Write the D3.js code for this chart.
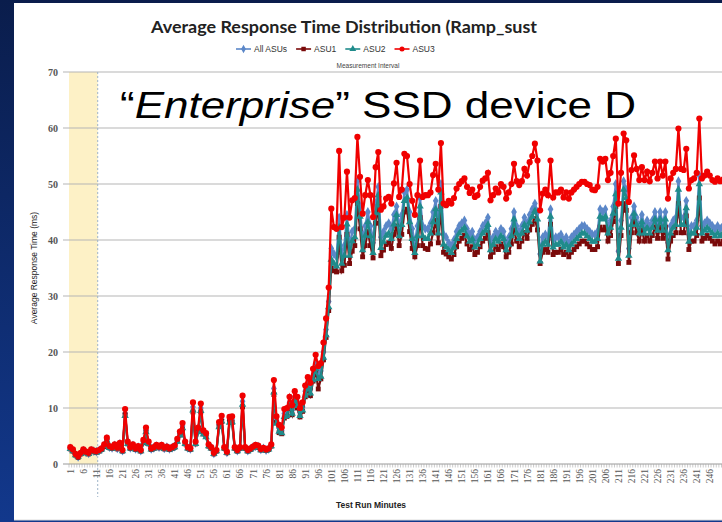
<!doctype html>
<html>
<head>
<style type="text/css">
body { margin: 0; background: #0b1f50; }
svg { display: block; }
.title { font: bold 17px Lato, "Open Sans", sans-serif; fill: #222; text-anchor: middle; }
.legend text { font: 8.5px "Liberation Sans", sans-serif; fill: #333; }
.ylab text { font: bold 10px "Liberation Serif", serif; fill: #555; }
.xlab text { font: 9.5px "Liberation Serif", serif; fill: #555; }
.axtitle { font: bold 8.5px "Liberation Sans", sans-serif; fill: #222; }
.big { font: 36px "Liberation Sans", Arial, sans-serif; fill: #000; }
</style>
</head>
<body>
<svg width="722" height="522"></svg>
<script src="https://cdn.jsdelivr.net/npm/d3@7"></script>
<script>
// minutes 1..251 (chart is cropped on the right)
var minutes = d3.range(1, 252);
var yTicks = [0, 10, 20, 30, 40, 50, 60, 70];
var seriesNames = ["All ASUs", "ASU1", "ASU2", "ASU3"];

var allAsus = [
 2.8,2.4,1.7,1.3,1.9,2.4,2.1,1.9,2.4,2.3, 2.2,2.4,2.7,3.3,4.4,3.0,2.9,3.3,2.8,3.6,
 2.4,9.0,3.8,2.9,3.3,2.7,3.0,2.4,4.0,6.0, 3.8,2.7,2.9,3.2,3.0,3.2,2.8,3.0,2.7,2.9,
 3.1,4.2,5.4,6.8,3.8,2.9,2.7,10.2,3.8,6.0, 10.0,5.6,5.1,3.3,2.9,1.9,2.4,7.0,8.0,2.9,
 2.1,7.8,7.9,2.9,2.4,2.9,11.2,2.9,2.4,2.7, 3.0,3.2,3.1,2.6,2.8,2.5,2.7,3.3,13.5,7.8,
 6.4,6.0,9.0,9.2,11.0,9.6,12.0,11.0,9.2,10.2, 13.0,14.3,13.4,15.7,18.0,16.2,16.6,20.0,24.0,29.0,
 38.5,37.5,37.0,44.0,37.5,39.0,44.5,39.0,41.5,42.0, 50.5,46.0,40.0,42.5,45.0,42.5,39.5,46.5,49.5,40.5,
 41.5,42.5,43.0,42.0,44.5,46.0,42.5,44.5,48.5,49.0, 45.0,42.0,39.5,42.5,47.5,42.5,42.0,42.0,43.0,45.0,
 47.0,43.0,50.0,41.0,40.5,39.5,39.0,40.0,41.5,42.5, 43.0,43.5,42.0,41.0,41.5,40.0,40.5,41.5,42.5,43.0,
 44.0,39.5,40.5,41.5,41.0,42.0,41.5,39.5,40.5,42.0, 45.0,42.5,41.5,42.5,44.0,43.0,44.5,45.5,46.5,45.0,
 37.5,40.5,41.0,40.5,45.5,40.0,40.5,40.5,41.0,40.0, 40.5,39.5,40.5,41.0,41.5,42.0,42.5,42.5,42.0,41.5,
 41.0,41.0,41.5,45.5,45.0,45.5,42.5,43.5,46.0,50.0, 38.0,43.5,50.5,49.0,38.5,44.0,46.0,44.0,42.5,44.5,
 42.5,43.5,42.5,43.5,45.0,43.0,45.0,43.0,45.0,39.5, 42.5,43.5,44.0,50.5,44.0,44.0,47.0,41.0,42.5,42.5,
 43.5,51.5,42.5,43.0,43.5,43.0,42.5,42.0,42.5,42.0,42.5
];
var asu1 = [
 2.7,2.3,1.6,1.2,1.8,2.3,2.0,1.8,2.3,2.2, 2.1,2.3,2.6,3.1,4.1,2.9,2.8,3.1,2.7,3.4,
 2.3,8.8,3.6,2.8,3.1,2.6,2.9,2.3,3.8,5.8, 3.6,2.6,2.8,3.1,2.9,3.1,2.7,2.9,2.6,2.8,
 3.0,4.1,5.2,6.2,3.6,2.8,2.6,9.3,3.6,5.9, 9.3,5.4,4.9,3.2,2.8,1.8,2.3,6.8,7.6,2.8,
 2.0,7.6,7.4,2.8,2.3,2.8,10.2,2.8,2.3,2.6, 2.9,3.1,3.0,2.5,2.7,2.4,2.6,3.2,12.4,7.4,
 5.6,5.4,8.2,8.5,10.2,8.8,11.2,10.0,8.4,9.4, 12.0,13.2,12.2,14.8,16.6,13.4,15.2,18.6,22.6,27.4,
 35.0,34.5,34.3,40.5,34.5,35.5,41.0,35.8,38.0,39.0, 46.5,42.0,37.0,39.0,41.5,39.0,36.8,43.0,46.0,37.2,
 38.2,39.2,39.5,38.5,41.0,42.5,39.0,41.0,45.0,45.5, 41.5,38.5,37.0,39.0,44.0,39.0,38.5,38.3,39.3,41.3,
 43.5,39.5,46.0,37.8,37.5,37.0,36.6,37.4,38.8,39.8, 40.3,40.8,39.3,38.3,38.8,37.4,37.8,38.8,39.8,40.3,
 41.3,37.0,37.8,38.8,38.3,39.3,38.8,37.0,37.8,39.3, 41.8,39.8,38.8,39.8,41.3,40.3,41.8,42.8,43.8,41.8,
 35.8,37.8,38.3,37.8,42.8,37.4,37.8,37.8,38.3,37.4, 37.8,37.0,37.8,38.3,38.8,39.3,39.8,39.8,39.3,38.8,
 38.3,38.3,38.8,42.3,41.8,42.3,39.8,40.8,43.3,46.0, 35.8,40.8,46.5,45.3,36.0,41.3,43.3,41.3,39.8,41.8,
 39.8,40.8,39.8,40.8,42.3,40.3,42.3,40.3,42.3,36.6, 39.8,40.8,41.3,46.5,41.3,41.3,44.3,38.3,39.8,39.8,
 40.8,47.5,39.8,40.3,40.8,40.3,39.8,39.3,39.8,39.3,39.8
];
var asu2 = [
 2.7,2.3,1.6,1.3,1.8,2.3,2.0,1.8,2.3,2.2, 2.1,2.3,2.6,3.2,4.2,2.9,2.8,3.2,2.7,3.5,
 2.3,8.6,3.6,2.8,3.2,2.6,2.9,2.3,3.8,5.7, 3.6,2.6,2.8,3.1,2.9,3.1,2.7,2.9,2.6,2.8,
 3.0,4.0,5.1,6.4,3.6,2.8,2.6,9.6,3.6,5.7, 9.5,5.3,4.8,3.2,2.8,1.8,2.3,6.6,7.6,2.8,
 2.0,7.4,7.5,2.8,2.3,2.8,10.6,2.8,2.3,2.6, 2.9,3.1,3.0,2.5,2.7,2.4,2.6,3.2,12.8,7.2,
 5.8,5.5,8.4,8.6,10.4,9.0,11.4,10.4,8.6,9.6, 12.2,13.6,12.6,15.0,17.0,15.2,15.6,19.0,23.0,28.0,
 36.5,35.8,35.3,42.3,35.8,37.2,42.8,37.2,39.8,40.5, 49.0,44.2,38.2,40.8,43.2,40.7,37.7,44.8,48.0,38.6,
 39.7,40.8,41.2,40.2,42.8,44.5,40.7,42.7,47.0,47.6, 43.2,40.2,37.7,40.7,46.0,40.7,40.2,40.2,41.2,43.2,
 45.5,41.2,48.5,39.2,38.7,38.2,37.7,38.7,40.2,41.2, 41.7,42.2,40.7,39.7,40.2,38.7,39.2,40.2,41.2,41.7,
 42.7,38.2,39.2,40.2,39.7,40.7,40.2,38.2,39.2,40.7, 43.7,41.2,40.2,41.2,42.7,41.7,43.2,44.2,45.2,43.7,
 36.2,39.2,39.7,39.2,44.2,38.7,39.2,39.2,39.7,38.7, 39.2,38.2,39.2,39.7,40.2,40.7,41.2,41.2,40.7,40.2,
 39.7,39.7,40.2,44.2,43.7,44.2,41.2,42.2,44.7,48.2, 36.7,42.2,49.0,47.5,37.2,42.7,44.7,42.7,41.2,43.2,
 41.2,42.2,41.2,42.2,43.7,41.7,43.7,41.7,43.7,38.2, 41.2,42.2,42.7,49.0,42.7,42.7,45.7,39.7,41.2,41.2,
 42.2,50.0,41.2,41.7,42.2,41.7,41.2,40.7,41.2,40.7,41.2
];
var asu3 = [
 3.0,2.6,1.8,1.4,2.0,2.6,2.2,2.0,2.6,2.4, 2.3,2.5,2.8,3.5,4.7,3.2,3.0,3.5,2.9,3.8,
 2.5,9.8,4.0,3.0,3.5,2.8,3.2,2.5,4.3,6.5, 4.0,2.8,3.0,3.4,3.1,3.4,2.9,3.1,2.8,3.0,
 3.3,4.5,5.8,7.3,4.0,3.0,2.8,11.0,4.0,6.5, 10.8,6.0,5.5,3.5,3.0,2.0,2.5,7.5,8.6,3.0,
 2.2,8.4,8.5,3.0,2.5,3.0,12.2,3.0,2.5,2.8, 3.1,3.4,3.3,2.7,2.9,2.6,2.8,3.5,15.0,8.5,
 7.0,6.5,9.8,10.0,12.0,10.5,13.0,12.0,10.0,11.0, 14.0,15.5,14.5,17.0,19.5,17.5,18.0,21.7,26.0,31.5,
 45.6,42.3,42.0,55.9,42.3,44.0,52.2,44.0,47.1,47.5, 58.4,51.3,44.7,48.0,50.7,48.0,44.1,53.0,55.7,45.4,
 46.0,47.4,47.7,46.5,50.1,53.8,47.7,49.0,55.4,55.0, 50.0,47.0,44.5,48.0,54.2,47.7,48.0,48.0,48.5,51.6,
 53.6,49.0,57.3,46.5,46.2,47.0,46.5,47.5,49.2,50.0, 50.5,51.0,49.5,48.4,49.0,47.7,48.0,49.5,50.6,51.0,
 52.0,47.1,48.0,49.2,48.5,50.0,49.5,47.4,48.5,50.0, 53.6,50.5,49.8,50.5,52.7,51.5,53.9,55.0,57.2,54.2,
 45.3,48.3,49.0,48.0,54.2,47.6,48.5,48.5,49.0,47.6, 48.5,47.4,48.5,49.0,49.5,50.0,50.4,50.4,50.0,49.8,
 49.0,48.9,49.5,54.5,54.0,54.5,50.7,52.0,55.0,58.1, 46.5,52.0,59.0,57.8,46.8,52.5,55.1,52.7,50.7,53.0,
 50.7,52.2,50.5,52.0,54.0,51.0,54.0,51.5,54.0,47.4, 51.0,52.0,52.7,59.9,52.7,52.5,56.3,49.2,50.7,51.0,
 52.0,61.7,51.0,51.5,52.2,51.5,50.7,50.4,51.0,50.5,50.8
];
// warm-up period shown shaded
var warmupEnd = 11;

var colors = ["#5b87c8", "#7a0a0a", "#1f8b8b", "#f00000"];
var symbols = [d3.symbolDiamond, d3.symbolSquare, d3.symbolTriangle, d3.symbolCircle];
var symSize = [28, 24, 24, 30];
var allSeries = [allAsus, asu1, asu2, asu3];

var svg = d3.select("svg");

// slide background + chart panel
var defs = svg.append("defs");
var grad = defs.append("linearGradient").attr("id", "bg").attr("x1", 0).attr("y1", 0).attr("x2", 0).attr("y2", 1);
grad.append("stop").attr("offset", 0).attr("stop-color", "#0a1d4c");
grad.append("stop").attr("offset", 1).attr("stop-color", "#12388c");
svg.append("rect").attr("width", 722).attr("height", 522).attr("fill", "url(#bg)");
svg.append("rect").attr("x", 14).attr("y", 3).attr("width", 720).attr("height", 517).attr("fill", "#fff");
svg.append("line").attr("x1", 14).attr("x2", 722).attr("y1", 520).attr("y2", 520).attr("stroke", "#ddd");

var x = d3.scaleBand().domain(minutes).range([69, 69 + minutes.length * 2.61]);
var y = d3.scaleLinear().domain([0, 70]).range([464, 72]);
var cx = function(m) { return x(m) + x.bandwidth() / 2; };

var plot = svg.append("g");

// warm-up band
plot.append("rect")
  .attr("x", x(1)).attr("y", y(70))
  .attr("width", x(warmupEnd) + x.bandwidth() - x(1))
  .attr("height", y(0) - y(70))
  .attr("fill", "#fdf1c6");

// gridlines
plot.selectAll("line.grid").data(yTicks.slice(1)).enter().append("line")
  .attr("class", "grid")
  .attr("x1", 63).attr("x2", 722)
  .attr("y1", function(d) { return y(d); }).attr("y2", function(d) { return y(d); })
  .attr("stroke", "#b5b5b5").attr("stroke-width", 1);

plot.append("line")
  .attr("x1", x(warmupEnd) + x.bandwidth()).attr("x2", x(warmupEnd) + x.bandwidth())
  .attr("y1", y(70)).attr("y2", 497)
  .attr("stroke", "#9fb4c8").attr("stroke-dasharray", "2,2");

// y labels
svg.append("g").attr("class", "ylab").selectAll("text").data(yTicks).enter().append("text")
  .attr("x", 58).attr("y", function(d) { return y(d) + 3.5; })
  .attr("text-anchor", "end")
  .text(function(d) { return d; });

// x axis line + minor ticks
plot.append("line").attr("x1", 63).attr("x2", 722).attr("y1", y(0)).attr("y2", y(0)).attr("stroke", "#999");
plot.selectAll("line.tick").data(minutes.concat([252])).enter().append("line")
  .attr("class", "tick")
  .attr("x1", function(d) { return 69 + (d - 1) * x.step(); })
  .attr("x2", function(d) { return 69 + (d - 1) * x.step(); })
  .attr("y1", y(0)).attr("y2", y(0) + 3.5)
  .attr("stroke", "#aaa").attr("stroke-width", 0.6);

svg.append("g").attr("class", "xlab").selectAll("text")
  .data(minutes.filter(function(m) { return m % 5 === 1 && m < 250; }))
  .enter().append("text")
  .attr("transform", function(d) { return "translate(" + (cx(d) + 3.5) + ",469) rotate(-90)"; })
  .attr("text-anchor", "end")
  .text(function(d) { return d; });

// series
var line = d3.line()
  .x(function(d, i) { return cx(minutes[i]); })
  .y(function(d) { return y(d); });

allSeries.forEach(function(s, k) {
  var g = plot.append("g");
  g.append("path").datum(s)
    .attr("d", line)
    .attr("fill", "none")
    .attr("stroke", colors[k])
    .attr("stroke-width", 2.2);
  g.selectAll("path.pt").data(s).enter().append("path")
    .attr("class", "pt")
    .attr("transform", function(d, i) { return "translate(" + cx(minutes[i]) + "," + y(d) + ")"; })
    .attr("d", d3.symbol().type(symbols[k]).size(symSize[k]))
    .attr("fill", colors[k]);
});

// titles
svg.append("text").attr("class", "title").attr("x", 344).attr("y", 33)
  .attr("textLength", 386).attr("lengthAdjust", "spacingAndGlyphs")
  .text("Average Response Time Distribution (Ramp_sust");

svg.append("text").attr("x", 368).attr("y", 68)
  .attr("text-anchor", "middle")
  .style("font", "6.5px 'Liberation Sans', sans-serif").style("fill", "#444")
  .text("Measurement Interval");

svg.append("text").attr("class", "axtitle")
  .attr("transform", "translate(37," + y(35) + ") rotate(-90)")
  .attr("text-anchor", "middle")
  .style("font-weight", "normal")
  .text("Average Response Time (ms)");

svg.append("text").attr("class", "axtitle").attr("x", 371).attr("y", 508)
  .attr("text-anchor", "middle")
  .text("Test Run Minutes");

// legend
var legend = svg.append("g").attr("class", "legend");
var lx = 236;
seriesNames.forEach(function(name, k) {
  legend.append("line").attr("x1", lx).attr("x2", lx + 15).attr("y1", 49).attr("y2", 49)
    .attr("stroke", colors[k]).attr("stroke-width", 1.6);
  legend.append("path").attr("transform", "translate(" + (lx + 7.5) + ",49)")
    .attr("d", d3.symbol().type(symbols[k]).size(20)).attr("fill", colors[k]);
  var t = legend.append("text").attr("x", lx + 18).attr("y", 52).text(name);
  lx += 18 + t.node().getComputedTextLength() + 9;
});

// overlay caption
var cap = svg.append("text").attr("class", "big").attr("x", 120).attr("y", 118)
  .attr("textLength", 516).attr("lengthAdjust", "spacingAndGlyphs");
cap.append("tspan").text("\u201C");
cap.append("tspan").style("font-style", "italic").text("Enterprise");
cap.append("tspan").text("\u201D SSD device D");
</script>
</body>
</html>
